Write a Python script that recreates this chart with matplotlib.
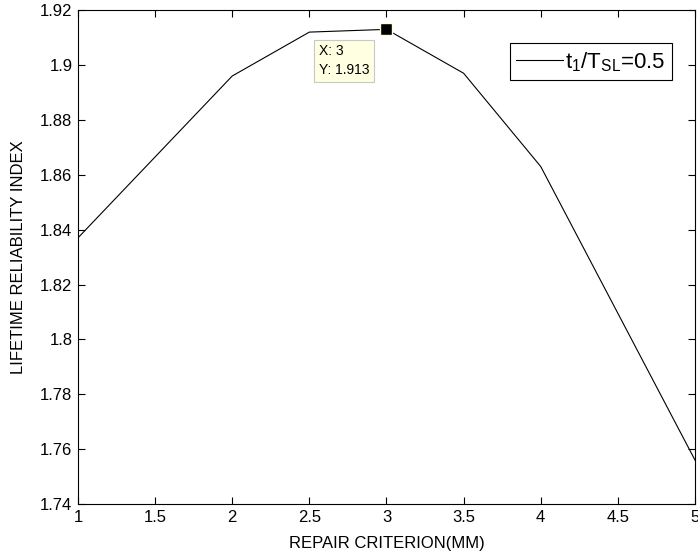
import matplotlib
matplotlib.use('Agg')
import matplotlib.pyplot as plt

# repair criterion (mm) vs lifetime reliability index
repair_mm = [1, 2, 2.5, 3, 3.5, 4, 5]
beta_life = [1.837, 1.896, 1.912, 1.913, 1.897, 1.863, 1.756]
x_ticks = [1, 1.5, 2, 2.5, 3, 3.5, 4, 4.5, 5]
y_ticks = [1.74, 1.76, 1.78, 1.80, 1.82, 1.84, 1.86, 1.88, 1.90, 1.92]
y_labels = ['1.74', '1.76', '1.78', '1.8', '1.82', '1.84', '1.86', '1.88', '1.9', '1.92']
tip_x, tip_y = 3, 1.913

plt.rcParams['font.family'] = ['Liberation Sans', 'DejaVu Sans']
plt.rcParams['mathtext.fontset'] = 'custom'
plt.rcParams['mathtext.rm'] = 'Liberation Sans'
plt.rcParams['mathtext.it'] = 'Liberation Sans'

fig = plt.figure(figsize=(6.98, 5.58), dpi=100)
ax = fig.add_axes([0.1117, 0.0968, 0.884, 0.885])

ax.plot(repair_mm, beta_life, color='black', lw=0.8, label=r'$\mathrm{t_1/T_{SL}}$=0.5')
ax.plot([tip_x], [tip_y], marker='s', ms=8, color='black', mec='#ffffe0', mew=1, ls='none')
ax.text(tip_x - 0.44, tip_y - 0.0055, 'X: 3\nY: 1.913', fontsize=10, va='top', ha='left',
        linespacing=1.45,
        bbox=dict(boxstyle='square,pad=0.35', fc='#ffffe1', ec='#c8c8c8', lw=0.8))

ax.set_xlim(1, 5)
ax.set_ylim(1.74, 1.92)
ax.set_xticks(x_ticks)
ax.set_xticklabels(['1', '1.5', '2', '2.5', '3', '3.5', '4', '4.5', '5'])
ax.set_yticks(y_ticks)
ax.set_yticklabels(y_labels)
ax.tick_params(direction='in', top=True, right=True, labelsize=12, length=5, width=0.8, pad=4)
for s in ax.spines.values():
    s.set_linewidth(0.8)

ax.set_xlabel('REPAIR CRITERION(MM)', fontsize=12, labelpad=8)
ax.set_ylabel('LIFETIME RELIABILITY INDEX', fontsize=12, labelpad=10)

leg = ax.legend(loc='upper right', bbox_to_anchor=(0.963, 0.933), fontsize=16, fancybox=False,
                framealpha=1, edgecolor='black', handlelength=2.1, handletextpad=0.1,
                borderpad=0.3, borderaxespad=0)
leg.get_frame().set_linewidth(0.8)

fig.savefig('out.png', dpi=100)
